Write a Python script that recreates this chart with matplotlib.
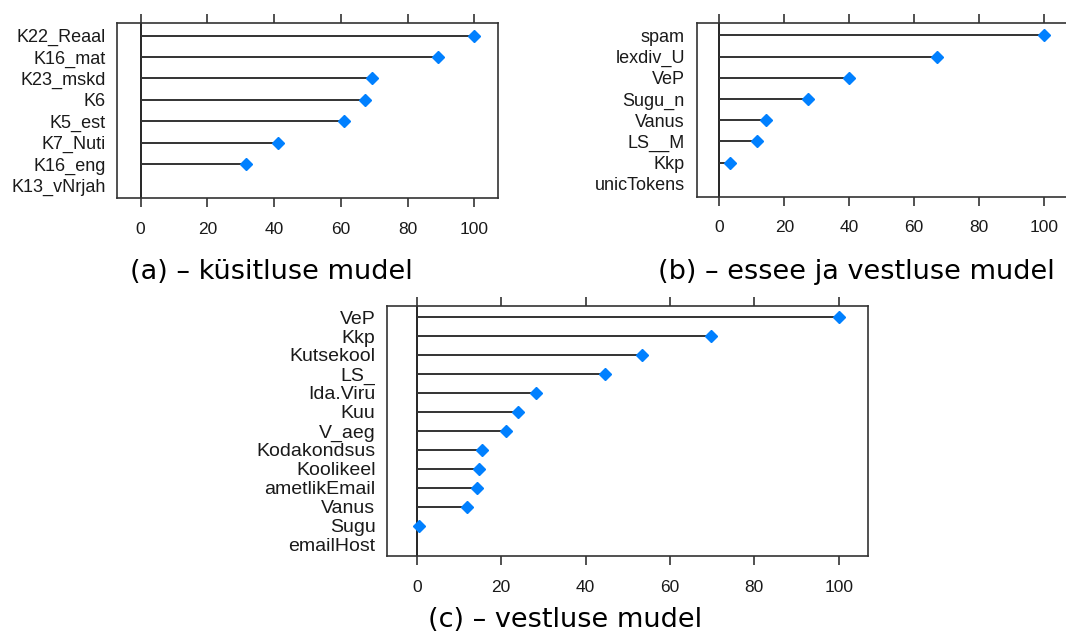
import numpy as np
import matplotlib
matplotlib.use('Agg')
import matplotlib.pyplot as plt

# (a) kysitluse mudel
labels_a = ['K22_Reaal', 'K16_mat', 'K23_mskd', 'K6', 'K5_est', 'K7_Nuti', 'K16_eng', 'K13_vNrjah']
imp_a = [100, 89.2, 69.3, 67.2, 61.1, 41.3, 31.7, 0]

# (b) essee ja vestluse mudel
labels_b = ['spam', 'lexdiv_U', 'VeP', 'Sugu_n', 'Vanus', 'LS__M', 'Kkp', 'unicTokens']
imp_b = [100, 67.1, 40.0, 27.2, 14.2, 11.5, 3.3, 0]

# (c) vestluse mudel
labels_c = ['VeP', 'Kkp', 'Kutsekool', 'LS_', 'Ida.Viru', 'Kuu', 'V_aeg', 'Kodakondsus',
            'Koolikeel', 'ametlikEmail', 'Vanus', 'Sugu', 'emailHost']
imp_c = [100, 69.8, 53.4, 44.6, 28.3, 24.0, 21.1, 15.5, 14.8, 14.3, 11.9, 0.5, 0]

xticks = [0, 20, 40, 60, 80, 100]
captions = ['(a) – küsitluse mudel', '(b) – essee ja vestluse mudel', '(c) – vestluse mudel']

plt.rcParams['font.family'] = ['Liberation Sans', 'DejaVu Sans']

fig = plt.figure(figsize=(10.66, 6.41), dpi=100)


def lollipop(rect, labels, vals, lab_size):
    ax = fig.add_axes(rect)
    vals = np.array(vals, dtype=float)
    n = len(labels)
    y = np.arange(n, 0, -1)
    ax.axvline(0, color='black', lw=1.2, zorder=1)
    ax.hlines(y, 0, vals, color='#333333', lw=1.4, zorder=2)
    m = vals > 0
    ax.plot(vals[m], y[m], 'D', color='#0080ff', ms=6.3, mec='#0080ff', zorder=3)
    ax.set_xlim(-7, 107)
    ax.set_ylim(0.4, n + 0.6)
    ax.set_yticks(y)
    ax.set_yticklabels(labels, fontsize=lab_size, color='#1a1a1a')
    ax.set_xticks(xticks)
    ax.set_xticklabels([str(t) for t in xticks], fontsize=12.5, color='#1a1a1a')
    ax.tick_params(axis='y', length=0, pad=8.5)
    ax.tick_params(axis='x', direction='out', length=6.5, width=1.2, color='#333333',
                   top=True, labeltop=False, pad=10.5)
    for s in ax.spines.values():
        s.set_color('#333333')
        s.set_linewidth(1.2)
    return ax


lollipop([0.1100, 0.6906, 0.3568, 0.2739], labels_a, imp_a, 13)
lollipop([0.6536, 0.6934, 0.3469, 0.2711], labels_b, imp_b, 13)
lollipop([0.3633, 0.1326, 0.4512, 0.3905], labels_c, imp_c, 14)

fig.text(271.6 / 1066, 1 - 279 / 641, captions[0], ha='center', va='baseline',
         fontsize=19.5, family='DejaVu Sans')
fig.text(856 / 1066, 1 - 279 / 641, captions[1], ha='center', va='baseline',
         fontsize=19.5, family='DejaVu Sans')
fig.text(565.5 / 1066, 1 - 627 / 641, captions[2], ha='center', va='baseline',
         fontsize=19.5, family='DejaVu Sans')

fig.savefig('out.png', dpi=100)
